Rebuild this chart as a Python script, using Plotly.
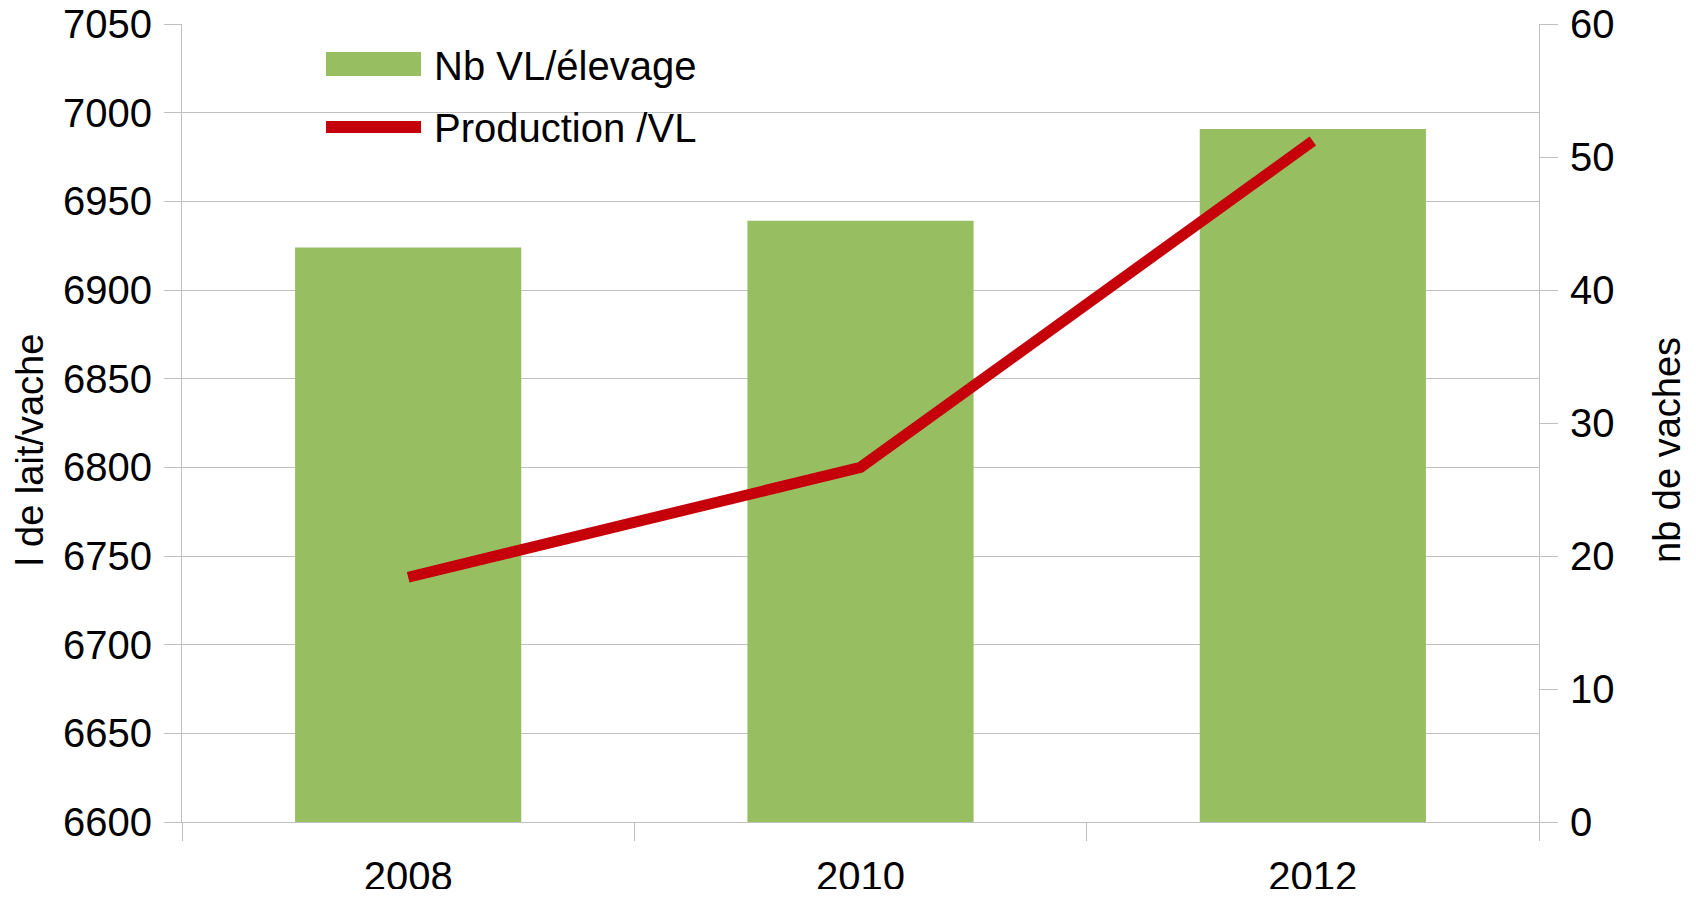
import plotly.graph_objects as go

years = ["2008", "2010", "2012"]
nb_vl = [43.2, 45.2, 52.1]            # Nb VL/élevage (right axis)
production = [6738, 6800, 6984]       # Production /VL (left axis)
left_ticks = [6600, 6650, 6700, 6750, 6800, 6850, 6900, 6950, 7000, 7050]
right_ticks = [0, 10, 20, 30, 40, 50, 60]

GREEN = "#97BE60"
RED = "#C5000B"
GRID = "#C0C0C0"
FONT = "Liberation Sans, Arial, sans-serif"

OFF = 8  # page body margin
W, H = 1680, 881
L, T = 182 - OFF, 24 - OFF
R = W - (1539 - OFF)
B = H - (822 - OFF)
pw, ph = W - L - R, H - T - B

def px(x):  # page pixel -> paper
    return (x - OFF - L) / pw

def py(y):
    return (H - B - (y - OFF)) / ph

fig = go.Figure()
# invisible trace anchoring the main (left) axis so its grid sits beneath the bars
fig.add_trace(go.Scatter(x=years, y=production, yaxis="y", mode="lines",
                         line=dict(width=0, color="rgba(0,0,0,0)"), hoverinfo="skip", showlegend=False))
fig.add_trace(go.Bar(x=years, y=nb_vl, yaxis="y2", marker=dict(color=GREEN, line=dict(width=0)),
                     name="Nb VL/élevage", showlegend=False))
fig.add_trace(go.Scatter(x=years, y=production, yaxis="y3", mode="lines",
                         line=dict(color=RED, width=11), name="Production /VL", showlegend=False))

fig.update_layout(
    width=W, height=H,
    margin=dict(l=L, r=R, t=T, b=B, autoexpand=False),
    paper_bgcolor="white", plot_bgcolor="white",
    font=dict(family=FONT, color="black", size=40),
    bargap=0.5,
    xaxis=dict(type="category", categoryarray=years, range=[-0.5, 2.5],
               tickson="boundaries", ticks="outside", ticklen=18, tickcolor=GRID, tickwidth=1,
               showline=True, linecolor=GRID, linewidth=1, showgrid=False,
               tickfont=dict(size=40), ticklabelstandoff=19),
    yaxis=dict(range=[6600, 7050], tickvals=left_ticks, ticks="outside", ticklen=17,
               tickcolor=GRID, showline=True, linecolor=GRID, linewidth=1,
               showgrid=True, gridcolor=GRID, gridwidth=1, zeroline=False,
               tickfont=dict(size=40), ticklabelstandoff=4, ticklabeloverflow="allow"),
    yaxis2=dict(range=[0, 60], tickvals=right_ticks, overlaying="y", side="right",
                ticks="outside", ticklen=18, tickcolor=GRID, showline=True, linecolor=GRID,
                linewidth=1, showgrid=False, zeroline=False,
                tickfont=dict(size=40), ticklabelstandoff=4, ticklabeloverflow="allow"),
    yaxis3=dict(range=[6600, 7050], overlaying="y", visible=False, showgrid=False),
)

# Axis titles
fig.add_annotation(text="l de lait/vache", xref="paper", yref="paper", x=px(30), y=py(450),
                   xanchor="center", yanchor="middle", textangle=-90, showarrow=False,
                   font=dict(size=38, family=FONT, color="black"))
fig.add_annotation(text="nb de vaches", xref="paper", yref="paper", x=px(1667), y=py(450),
                   xanchor="center", yanchor="middle", textangle=-90, showarrow=False,
                   font=dict(size=38, family=FONT, color="black"))

# Legend (drawn manually to match the wide swatches)
fig.add_shape(type="rect", xref="paper", yref="paper", x0=px(326), x1=px(421), y0=py(76), y1=py(52),
              fillcolor=GREEN, line=dict(width=0))
fig.add_shape(type="line", xref="paper", yref="paper", x0=px(326), x1=px(421), y0=py(127), y1=py(127),
              line=dict(color=RED, width=12))
fig.add_annotation(text="Nb VL/élevage", xref="paper", yref="paper", x=px(432), y=py(66),
                   xanchor="left", yanchor="middle", showarrow=False,
                   font=dict(size=40, family=FONT, color="black"))
fig.add_annotation(text="Production /VL", xref="paper", yref="paper", x=px(432), y=py(128),
                   xanchor="left", yanchor="middle", showarrow=False,
                   font=dict(size=40, family=FONT, color="black"))

fig.write_html("out.html")
